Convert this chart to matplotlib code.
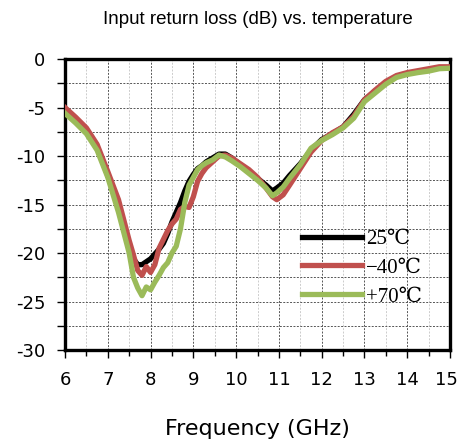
import matplotlib
matplotlib.use('Agg')
import matplotlib.pyplot as plt
import matplotlib.transforms as mtransforms
from matplotlib.ticker import MultipleLocator

plt.rcParams['axes.unicode_minus'] = False

freq = [6.0, 6.25, 6.5, 6.75, 7.0, 7.25, 7.5, 7.6, 7.7, 7.8, 7.9, 8.0, 8.1, 8.2, 8.3,
        8.4, 8.5, 8.6, 8.7, 8.8, 8.9, 9.0, 9.1, 9.2, 9.3, 9.45, 9.6, 9.75, 9.9, 10.1,
        10.3, 10.5, 10.7, 10.85, 10.95, 11.1, 11.25, 11.5, 11.75, 12.0, 12.25, 12.5,
        12.75, 13.0, 13.25, 13.5, 13.75, 14.0, 14.25, 14.5, 14.75, 15.0]

s11_25 = [-5.3, -6.3, -7.4, -9.1, -12.0, -15.3, -19.3, -20.6, -21.2, -21.2, -20.9, -20.6,
          -20.1, -19.6, -19.0, -18.0, -16.8, -15.8, -14.8, -13.6, -12.6, -11.9, -11.3,
          -11.0, -10.6, -10.2, -9.8, -9.8, -10.2, -10.9, -11.6, -12.3, -13.0, -13.6, -13.3,
          -12.8, -12.0, -10.8, -9.4, -8.3, -7.7, -7.0, -5.7, -4.2, -3.3, -2.5, -1.8, -1.5,
          -1.3, -1.1, -0.9, -0.9]

s11_m40 = [-5.0, -6.0, -7.1, -8.8, -11.6, -14.5, -18.7, -20.2, -21.8, -22.3, -21.4, -22.0,
           -21.2, -19.5, -18.6, -17.7, -17.0, -16.5, -15.5, -15.2, -15.3, -14.2, -12.6,
           -11.8, -11.2, -10.6, -10.0, -9.9, -10.2, -10.8, -11.4, -12.2, -13.3, -14.2, -14.5,
           -14.0, -13.0, -11.3, -9.6, -8.4, -7.6, -7.0, -5.9, -4.2, -3.2, -2.3, -1.7, -1.4,
           -1.2, -1.0, -0.8, -0.8]

s11_p70 = [-5.6, -6.6, -7.7, -9.4, -12.2, -15.8, -20.0, -22.5, -23.6, -24.4, -23.5, -23.8,
           -23.0, -22.3, -21.5, -21.0, -20.0, -19.3, -17.5, -14.8, -13.0, -12.2, -11.4,
           -11.0, -10.7, -10.4, -9.9, -10.1, -10.5, -11.1, -11.8, -12.5, -13.3, -14.1, -13.8,
           -13.2, -12.3, -10.9, -9.2, -8.4, -7.8, -7.1, -6.1, -4.4, -3.5, -2.6, -1.9, -1.6,
           -1.4, -1.25, -1.0, -0.95]

labels = ['25\u2103', '\u221240\u2103', '+70\u2103']
xticks = [6, 7, 8, 9, 10, 11, 12, 13, 14, 15]

fig = plt.figure(figsize=(4.6, 4.46), dpi=100)
ax = fig.add_axes([0.1413, 0.2152, 0.8370, 0.6525])

ax.plot(freq, s11_25, color='black', lw=3.8, label=labels[0], zorder=3)
ax.plot(freq, s11_m40, color='#C0504D', lw=3.8, label=labels[1], zorder=4)
ax.plot(freq, s11_p70, color='#9BBB59', lw=3.8, label=labels[2], zorder=5)

ax.set_xlim(6, 15)
ax.set_ylim(-30, 0)
ax.set_xticks(xticks)
ax.xaxis.set_minor_locator(MultipleLocator(0.5))
ax.yaxis.set_major_locator(MultipleLocator(5))
ax.yaxis.set_minor_locator(MultipleLocator(2.5))

ax.grid(True, which='major', axis='both', color='#555555', ls=(0, (2, 1.5)), lw=0.7)
ax.grid(True, which='minor', axis='y', color='#555555', ls=(0, (2, 1.5)), lw=0.7)
ax.grid(True, which='minor', axis='x', color='#cccccc', ls=(0, (2, 1.5)), lw=0.7)
ax.set_axisbelow(True)

for sp in ax.spines.values():
    sp.set_linewidth(2.4)

ax.tick_params(which='both', direction='out', width=1, labelsize=13)
ax.tick_params(axis='y', pad=8)
ax.tick_params(axis='x', pad=9)
ax.tick_params(which='major', length=6)
ax.tick_params(which='minor', length=6)
ax.tick_params(axis='x', which='minor', length=4)

ax.set_xlabel('Frequency (GHz)', fontsize=16, labelpad=22)
ax.set_title('Input return loss (dB) vs. temperature', fontsize=13.5,
             family='Liberation Sans', pad=25)

ax.legend(loc='upper left', bbox_to_anchor=(0.615, 0.415), frameon=False,
          prop={'family': ['Liberation Serif', 'DejaVu Serif'], 'size': 15},
          handlelength=2.9, handletextpad=0.2, labelspacing=0.45,
          borderpad=0, borderaxespad=0)

# keep the "15" label inside the canvas
fig.canvas.draw()
last = ax.xaxis.get_major_ticks()[len(xticks) - 1].label1
last.set_transform(last.get_transform() +
                   mtransforms.ScaledTranslation(-4 / 100, 0, fig.dpi_scale_trans))

fig.savefig('out.png', dpi=100)
